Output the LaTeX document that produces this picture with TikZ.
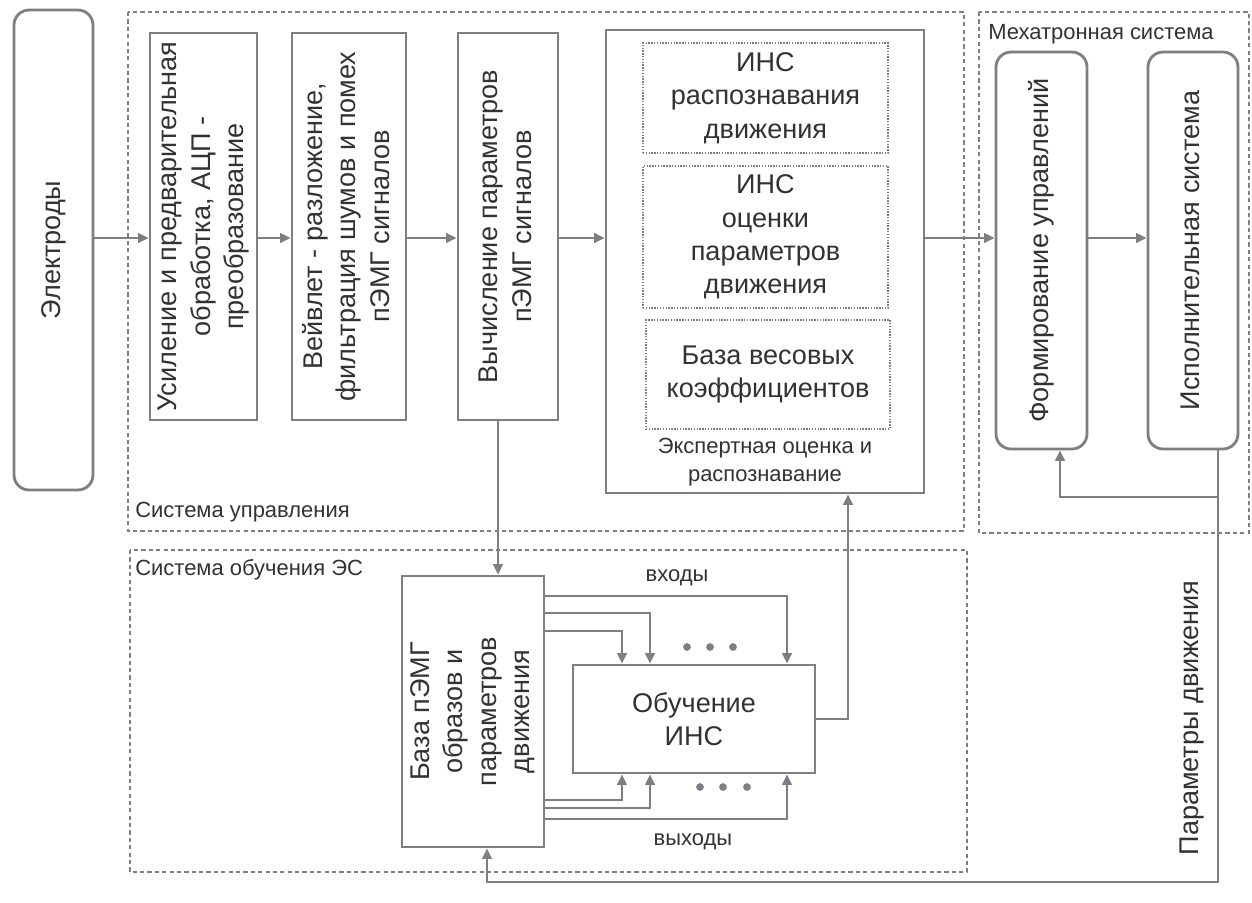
\documentclass[tikz,border=0pt]{standalone}
\usepackage{fontspec}
\setmainfont{Liberation Sans}
\usepackage{graphicx}
\usetikzlibrary{arrows.meta}

\definecolor{linegray}{RGB}{125,127,132}
\definecolor{textgray}{RGB}{50,50,52}
\newcommand{\bigtxt}{\fontsize{15.4}{19}\selectfont}
\newcommand{\smalltxt}{\fontsize{12.5}{15.5}\selectfont}
\newcommand{\vtext}[1]{\rotatebox{90}{\begin{tabular}{@{}c@{}}#1\end{tabular}}}

\tikzset{
  block/.style={draw=linegray, line width=1.6pt, inner sep=0pt, text=textgray, font=\bigtxt, align=center},
  rblock/.style={block, rounded corners=0.3cm},
  subbox/.style={draw=linegray, line width=0.9pt, dash pattern=on 0.8pt off 0.8pt, inner sep=0pt, text=textgray, font=\bigtxt, align=center},
  area/.style={draw=linegray, line width=1.2pt, dash pattern=on 2.4pt off 1.8pt},
  arr/.style={draw=linegray, line width=1.4pt, -{Triangle[length=6pt,width=5.5pt]}},
  wire/.style={draw=linegray, line width=1.4pt},
  tag/.style={text=textgray, font=\smalltxt, inner sep=0pt},
}

\begin{document}
\begin{tikzpicture}[x=0.02cm, y=-0.02cm]
  \fill[white] (0,0) rectangle (1252,903);
  \useasboundingbox (0,0) rectangle (1252,903);

  % areas
  \draw[area] (128,12) rectangle (964,531);
  \draw[area] (979,12) rectangle (1249,533);
  \draw[area] (130,550) rectangle (967,872);
  \node[tag, anchor=west] at (135,512) {Система управления};
  \node[tag, anchor=west] at (135,570) {Система обучения ЭС};
  \node[tag, anchor=west] at (988,34) {Мехатронная система};

  % main chain
  \node[rblock, minimum width=1.58cm, minimum height=9.6cm] (elec) at (53.5,250) {\vtext{Электроды}};
  \node[block, minimum width=2.14cm, minimum height=7.74cm] (amp) at (203.5,226.5)
    {\vtext{Усиление и предварительная\\обработка, АЦП -\\преобразование}};
  \node[block, minimum width=2.28cm, minimum height=7.74cm] (wav) at (349,226.5)
    {\vtext{Вейвлет - разложение,\\фильтрация шумов и помех\\пЭМГ сигналов}};
  \node[block, minimum width=2.0cm, minimum height=7.74cm] (par) at (508,226.5)
    {\vtext{Вычисление параметров\\пЭМГ сигналов}};
  \node[block, minimum width=6.36cm, minimum height=9.26cm] (exp) at (765,261.5) {};
  \node[subbox, minimum width=4.9cm, minimum height=2.2cm] (rec) at (765.5,98) {ИНС\\распознавания\\движения};
  \node[subbox, minimum width=4.9cm, minimum height=2.84cm] (est) at (765.5,237) {ИНС\\оценки\\параметров\\движения};
  \node[subbox, minimum width=4.88cm, minimum height=2.18cm] (wgt) at (768,374.5) {База весовых\\коэффициентов};
  \node[tag, align=center] (expcap) at (765,462) {Экспертная оценка и\\распознавание};

  \node[rblock, minimum width=1.82cm, minimum height=7.94cm] (frm) at (1041.5,250.5) {\vtext{Формирование управлений}};
  \node[rblock, minimum width=1.8cm, minimum height=7.94cm] (act) at (1193,250.5) {\vtext{Исполнительная система}};

  % training
  \node[block, minimum width=2.84cm, minimum height=5.42cm] (db) at (473,711.5)
    {\vtext{База пЭМГ\\образов и\\параметров\\движения}};
  \node[block, minimum width=4.84cm, minimum height=2.16cm] (trn) at (694,719) {Обучение\\ИНС};
  \node[tag] (inl) at (677,578) {входы};
  \node[tag] (outl) at (693,842) {выходы};
  \node[text=textgray, font=\bigtxt, rotate=90, inner sep=0pt] (prm) at (1192,718) {Параметры движения};

  % connectors
  \coordinate (ay) at (0,238);
  \foreach \a/\b in {elec/amp, amp/wav, wav/par, par/exp, exp/frm, frm/act}
    \draw[arr] (\a.east |- ay) -- (\b.west |- ay);

  \coordinate (fb) at (1218,497);
  \coordinate (fbend) at (1218,882);
  \draw[arr] (act.south -| fb) -- (fbend) -| (db.south -| 487,0);
  \draw[arr] (fb) -| (frm.south -| 1060,0);

  \draw[arr] (par.south -| 498,0) -- (db.north -| 498,0);
  \draw[arr] (trn.east) -| (exp.south -| 848,0);

  \foreach \y/\x in {596/787, 613/650, 631/622}
    \draw[arr] (db.east |- 0,\y) -| (trn.north -| \x,0);
  \foreach \y/\x in {800/622, 808/650, 819/787}
    \draw[arr] (db.east |- 0,\y) -| (trn.south -| \x,0);

  \foreach \x in {687,710,733} \fill[linegray] (\x,647) circle (2.2pt);
  \foreach \x in {700,723,747} \fill[linegray] (\x,787) circle (2.2pt);
\end{tikzpicture}
\end{document}
